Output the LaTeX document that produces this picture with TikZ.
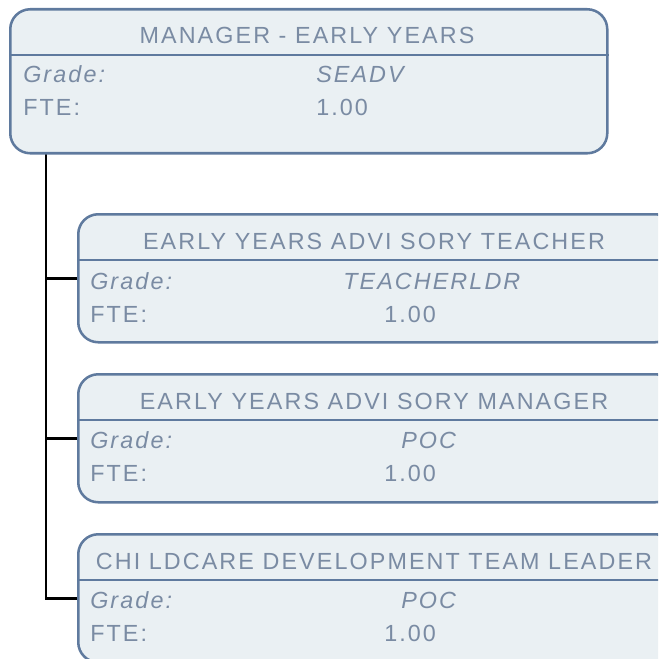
\documentclass[tikz,border=0pt]{standalone}
\usepackage{fontspec}
\setmainfont{Liberation Sans}[LetterSpace=9]
\usepackage{xcolor}
\usetikzlibrary{backgrounds}
\definecolor{postedge}{HTML}{5F7A9E}
\definecolor{postfill}{HTML}{EAF0F3}
\definecolor{posttext}{HTML}{7A8BA3}

\begin{document}
\begin{tikzpicture}[x=0.75pt,y=-0.75pt,
    postbox/.style={draw=postedge,fill=postfill,line width=1.9pt,rounded corners=15pt,
      anchor=north west,minimum width=447.75pt,inner sep=0pt},
    postline/.style={draw=postedge,line width=1.9pt},
    posttitle/.style={text=posttext,inner sep=0pt,font=\fontsize{17.5pt}{20pt}\selectfont},
    postfield/.style={posttitle,anchor=west},
    orgline/.style={draw=black,line width=2pt}]
  \useasboundingbox (0,0) rectangle (658,659);
  \clip (0,0) rectangle (658,659);

  % boxes
  \node[postbox,minimum height=108pt] (mgr) at (9,8) {};
  \node[postbox,minimum height=96pt] (eyat) at (77,213) {};
  \node[postbox,minimum height=96pt] (eyam) at (77,373) {};
  \node[postbox,minimum height=96pt] (cdtl) at (77,533) {};
  \foreach \b in {mgr,eyat,eyam,cdtl}
    \draw[postline] ([yshift=-35.25pt]\b.north west) -- ([yshift=-35.25pt]\b.north east);

  % manager
  \node[posttitle] (mgr-title) at (307,35) {MANAGER - EARLY YEARS};
  \node[postfield] (mgr-grade) at (23,74) {\itshape Grade:};
  \node[postfield] (mgr-gradeval) at (316,74) {\itshape SEADV};
  \node[postfield] (mgr-fte) at (23,107) {FTE:};
  \node[postfield] (mgr-fteval) at (316,107) {1.00};

  % advisory teacher
  \node[posttitle] (eyat-title) at (374,241) {EARLY YEARS ADVI SORY TEACHER};
  \node[postfield] (eyat-grade) at (90,281) {\itshape Grade:};
  \node[postfield] (eyat-gradeval) at (343,281) {\itshape TEACHERLDR};
  \node[postfield] (eyat-fte) at (90,314) {FTE:};
  \node[postfield] (eyat-fteval) at (384,314) {1.00};

  % advisory manager
  \node[posttitle] (eyam-title) at (374,401) {EARLY YEARS ADVI SORY MANAGER};
  \node[postfield] (eyam-grade) at (90,440) {\itshape Grade:};
  \node[postfield] (eyam-gradeval) at (401,440) {\itshape POC};
  \node[postfield] (eyam-fte) at (90,473) {FTE:};
  \node[postfield] (eyam-fteval) at (384,473) {1.00};

  % team leader
  \node[posttitle] (cdtl-title) at (374,561) {CHI LDCARE DEVELOPMENT TEAM LEADER};
  \node[postfield] (cdtl-grade) at (90,600) {\itshape Grade:};
  \node[postfield] (cdtl-gradeval) at (401,600) {\itshape POC};
  \node[postfield] (cdtl-fte) at (90,633) {FTE:};
  \node[postfield] (cdtl-fteval) at (384,633) {1.00};

  % reporting lines
  \coordinate (trunk) at (46,152);
  \begin{scope}[on background layer]
    \draw[orgline] (trunk) |- (cdtl.west);
    \draw[orgline] (trunk |- eyat.west) -- (eyat.west);
    \draw[orgline] (trunk |- eyam.west) -- (eyam.west);
  \end{scope}
\end{tikzpicture}
\end{document}
